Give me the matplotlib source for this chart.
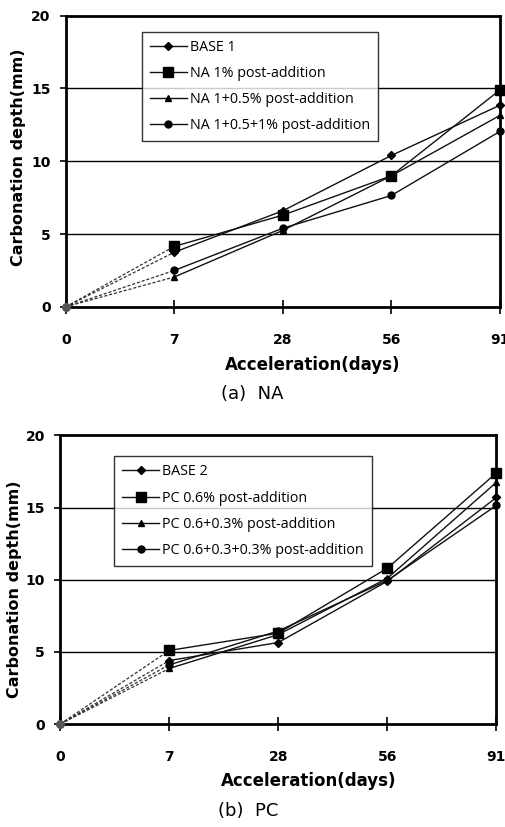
import matplotlib
matplotlib.use("Agg")
import matplotlib.pyplot as plt

days = ["0", "7", "28", "56", "91"]
y_ticks = [0, 5, 10, 15, 20]

na_labels = ["BASE 1", "NA 1% post-addition", "NA 1+0.5% post-addition", "NA 1+0.5+1% post-addition"]
na_base1 = [0, 3.75, 6.6, 10.4, 13.85]
na_1 = [0, 4.15, 6.3, 9.0, 14.9]
na_1_05 = [0, 2.05, 5.25, 9.0, 13.15]
na_1_05_1 = [0, 2.5, 5.4, 7.65, 12.05]

pc_labels = ["BASE 2", "PC 0.6% post-addition", "PC 0.6+0.3% post-addition", "PC 0.6+0.3+0.3% post-addition"]
pc_base2 = [0, 4.4, 5.65, 9.9, 15.7]
pc_06 = [0, 5.1, 6.3, 10.8, 17.4]
pc_06_03 = [0, 3.85, 6.2, 10.1, 16.75]
pc_06_03_03 = [0, 4.1, 6.45, 9.95, 15.15]

markers = ["D", "s", "^", "o"]
msizes = [4, 7, 5, 5]

fig = plt.figure(figsize=(5.06, 8.27), dpi=100)

def draw(ax_rect, series, labels, caption, legend_bbox, ylab_pos, xlab_pos):
    ax = fig.add_axes(ax_rect)
    x = list(range(len(days)))
    for vals, lab, m, ms in zip(series, labels, markers, msizes):
        ax.plot(x[:2], vals[:2], linestyle=(0, (2.5, 1.5)), color="#333333", lw=0.9, clip_on=False, zorder=3)
        ax.plot(x[1:], vals[1:], linestyle="-", color="#111111", lw=1.0, marker=m, ms=ms,
                markerfacecolor="black", markeredgecolor="black", clip_on=False, zorder=4, label=lab)
        ax.plot([x[0]], [vals[0]], marker="o", ms=5, color="#555555", clip_on=False, zorder=4)
    ax.set_xlim(0, len(days) - 1)
    ax.set_ylim(0, 20)
    ax.set_xticks(x)
    ax.set_xticklabels(days)
    ax.set_yticks(y_ticks)
    for yv in y_ticks[1:-1]:
        ax.axhline(yv, color="black", lw=1.0, zorder=1)
    for s in ax.spines.values():
        s.set_linewidth(2.0)
    ax.tick_params(axis="x", direction="inout", length=10, width=1.2, pad=14, labelsize=10)
    ax.tick_params(axis="y", direction="out", length=4, width=1.2, pad=7, labelsize=10)
    for t in ax.get_xticklabels() + ax.get_yticklabels():
        t.set_fontweight("bold")
    ax.set_ylabel("Carbonation depth(mm)", fontsize=11.5, fontweight="bold")
    ax.yaxis.set_label_coords(*ylab_pos)
    ax.set_xlabel("Acceleration(days)", fontsize=12, fontweight="bold")
    ax.xaxis.set_label_coords(*xlab_pos)
    leg = ax.legend(loc="upper left", bbox_to_anchor=legend_bbox, frameon=True, fancybox=False,
                    edgecolor="black", handlelength=2.6, handletextpad=0.2, borderaxespad=0,
                    borderpad=0.55, labelspacing=0.78, prop={"family": "Open Sans", "size": 10.3})
    leg.get_frame().set_linewidth(1.0)
    leg.set_zorder(10)
    fig.text(ax_rect[0] + ax_rect[2] * 0.43, ax_rect[1] - 0.105, caption, ha="center", va="center",
             fontsize=13, color="black")
    return ax

draw([0.130, 0.629, 0.858, 0.352], [na_base1, na_1, na_1_05, na_1_05_1], na_labels, "(a)  NA",
     (0.175, 0.945), (-0.092, 0.515), (0.569, -0.168))
draw([0.119, 0.1245, 0.862, 0.349], [pc_base2, pc_06, pc_06_03, pc_06_03_03], pc_labels, "(b)  PC",
     (0.124, 0.927), (-0.087, 0.467), (0.569, -0.166))

fig.savefig("out.png", dpi=100)
